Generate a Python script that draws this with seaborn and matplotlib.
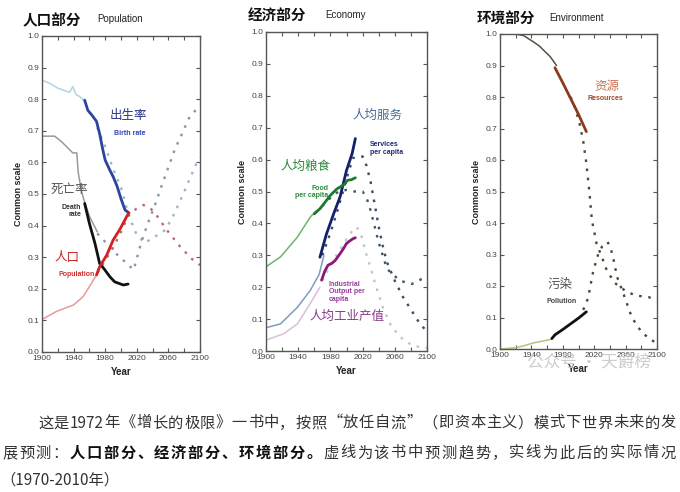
import numpy as np
import pandas as pd
import seaborn as sns
import matplotlib.pyplot as plt

# ---------------- population panel ----------------
birth_model_years = [1900, 1910, 1920, 1930, 1935, 1939, 1943, 1948, 1955]
birth_model = [0.86, 0.85, 0.835, 0.826, 0.822, 0.84, 0.815, 0.808, 0.79]
birth_obs_years = [1954, 1958, 1963, 1969, 1973, 1977, 1980, 1985, 1990, 1995, 2000, 2005, 2010]
birth_obs = [0.797, 0.765, 0.75, 0.73, 0.69, 0.64, 0.607, 0.58, 0.555, 0.525, 0.485, 0.45, 0.44]
birth_proj_years = [1970, 1975, 1980, 1990, 2000, 2010, 2020, 2030, 2043, 2056, 2068, 2081, 2096, 2100]
birth_proj = [0.71, 0.68, 0.65, 0.58, 0.52, 0.43, 0.37, 0.345, 0.365, 0.386, 0.44, 0.513, 0.60, 0.615]

death_model_years = [1900, 1916, 1925, 1935, 1939, 1944, 1946, 1950, 1952, 1960, 1970]
death_model = [0.683, 0.683, 0.665, 0.64, 0.63, 0.63, 0.565, 0.51, 0.49, 0.43, 0.38]
death_obs_years = [1954, 1960, 1967, 1973, 1978, 1986, 1992, 2003, 2009]
death_obs = [0.47, 0.407, 0.344, 0.28, 0.265, 0.238, 0.222, 0.212, 0.215]
death_proj_years = [1970, 1978, 1990, 2003, 2016, 2026, 2034, 2043, 2051, 2068, 2087, 2100]
death_proj = [0.375, 0.354, 0.32, 0.29, 0.26, 0.35, 0.407, 0.465, 0.523, 0.64, 0.745, 0.78]

pop_model_years = [1900, 1918, 1940, 1952, 1960, 1969]
pop_model = [0.103, 0.128, 0.149, 0.175, 0.207, 0.244]
pop_obs_years = [1969, 1973, 1982, 1990, 1999, 2007, 2010]
pop_obs = [0.244, 0.27, 0.307, 0.354, 0.39, 0.428, 0.44]
pop_proj_years = [1970, 1980, 1990, 2000, 2009, 2020, 2028, 2035, 2043, 2058, 2075, 2089, 2100]
pop_proj = [0.25, 0.29, 0.33, 0.38, 0.43, 0.455, 0.465, 0.46, 0.44, 0.386, 0.333, 0.296, 0.275]

# ---------------- economy panel ----------------
serv_model_years = [1900, 1918, 1939, 1955, 1966, 1972]
serv_model = [0.073, 0.085, 0.137, 0.19, 0.24, 0.30]
serv_obs_years = [1967, 1975, 1984, 1992, 2000, 2007, 2011]
serv_obs = [0.294, 0.366, 0.43, 0.483, 0.566, 0.619, 0.666]
serv_proj_years = [1970, 1980, 1990, 2000, 2008, 2020, 2025, 2030, 2035, 2040, 2045, 2050, 2060, 2070, 2080, 2090, 2100]
serv_proj = [0.30, 0.37, 0.45, 0.54, 0.605, 0.61, 0.58, 0.53, 0.46, 0.39, 0.33, 0.28, 0.22, 0.17, 0.13, 0.09, 0.06]

food_model_years = [1900, 1918, 1939, 1955, 1963]
food_model = [0.264, 0.295, 0.357, 0.42, 0.44]
food_obs_years = [1960, 1967, 1972, 1980, 1988, 1992, 1998, 2001, 2006, 2011]
food_obs = [0.43, 0.446, 0.462, 0.488, 0.508, 0.514, 0.524, 0.535, 0.537, 0.543]
food_proj_years = [1970, 1980, 1990, 2000, 2010, 2020, 2025, 2030, 2035, 2040, 2045, 2050, 2055, 2067, 2081, 2093, 2100]
food_proj = [0.455, 0.48, 0.50, 0.505, 0.50, 0.50, 0.48, 0.44, 0.39, 0.34, 0.30, 0.26, 0.245, 0.22, 0.21, 0.225, 0.23]

ind_model_years = [1900, 1922, 1939, 1955, 1967]
ind_model = [0.034, 0.054, 0.085, 0.149, 0.20]
ind_obs_years = [1969, 1973, 1977, 1982, 1986, 1992, 1996, 2000, 2004, 2008, 2011]
ind_obs = [0.222, 0.25, 0.269, 0.275, 0.284, 0.305, 0.32, 0.337, 0.345, 0.352, 0.355]
ind_proj_years = [1970, 1980, 1990, 2000, 2008, 2013, 2019, 2023, 2030, 2037, 2045, 2056, 2071, 2084, 2100]
ind_proj = [0.22, 0.27, 0.31, 0.35, 0.38, 0.388, 0.357, 0.316, 0.26, 0.20, 0.138, 0.075, 0.034, 0.015, 0.01]

# ---------------- environment panel ----------------
res_model_years = [1900, 1920, 1930, 1942, 1950, 1964, 1972]
res_model = [1.0, 1.0, 0.995, 0.976, 0.962, 0.928, 0.90]
res_obs_years = [1970, 1980, 1991, 2000, 2010]
res_obs = [0.893, 0.845, 0.79, 0.745, 0.69]
res_proj_years = [1990, 1995, 2001, 2006, 2010, 2014, 2017, 2023, 2030, 2036, 2046, 2059, 2072, 2089, 2100]
res_proj = [0.80, 0.77, 0.72, 0.66, 0.59, 0.495, 0.41, 0.335, 0.29, 0.25, 0.21, 0.186, 0.17, 0.165, 0.155]

pol_model_years = [1900, 1920, 1930, 1942, 1950, 1964]
pol_model = [0.0, 0.004, 0.01, 0.019, 0.023, 0.03]
pol_obs_years = [1966, 1970, 1980, 1990, 2000, 2010]
pol_obs = [0.033, 0.045, 0.062, 0.08, 0.098, 0.118]
pol_proj_years = [2006, 2012, 2019, 2025, 2030, 2037, 2041, 2045, 2049, 2057, 2068, 2080, 2090, 2100]
pol_proj = [0.124, 0.16, 0.25, 0.30, 0.325, 0.34, 0.32, 0.28, 0.23, 0.177, 0.10, 0.055, 0.033, 0.018]

sns.set_style('ticks')
plt.rcParams['font.family'] = ['Liberation Sans', 'Noto Sans CJK SC', 'DejaVu Sans']
CJK = ['Noto Sans CJK SC', 'DejaVu Sans']

W, H = 680, 492
fig = plt.figure(figsize=(W / 100, H / 100), dpi=100)


def px_axes(l, t, r, b):
    return fig.add_axes([l / W, 1 - b / H, (r - l) / W, (b - t) / H])


def draw(ax, years, vals, color, kind):
    if kind == 'model':
        sns.lineplot(x=years, y=vals, ax=ax, color=color, lw=1.1)
    elif kind == 'obs':
        sns.lineplot(x=years, y=vals, ax=ax, color=color, lw=2.0, zorder=5)
    else:
        sns.lineplot(x=years, y=vals, ax=ax, color=color, lw=1.7, linestyle=(0, (1.1, 2.8)))


ax1 = px_axes(42, 36, 200, 352)
ax2 = px_axes(266, 32, 427, 351)
ax3 = px_axes(500, 34, 657, 349)

# population
draw(ax1, birth_proj_years, birth_proj, '#9fb4cc', 'proj')
draw(ax1, death_proj_years, death_proj, '#8a96a8', 'proj')
draw(ax1, pop_proj_years, pop_proj, '#b86a78', 'proj')
draw(ax1, birth_model_years, birth_model, '#acd6e6', 'model')
draw(ax1, death_model_years, death_model, '#9a9a9a', 'model')
draw(ax1, pop_model_years, pop_model, '#e89a9a', 'model')
draw(ax1, birth_obs_years, birth_obs, '#2c44a0', 'obs')
draw(ax1, death_obs_years, death_obs, '#111111', 'obs')
draw(ax1, pop_obs_years, pop_obs, '#d42020', 'obs')

# economy
draw(ax2, serv_proj_years, serv_proj, '#3a4a6a', 'proj')
draw(ax2, food_proj_years, food_proj, '#3d5a60', 'proj')
draw(ax2, ind_proj_years, ind_proj, '#c4c4cc', 'proj')
draw(ax2, serv_model_years, serv_model, '#7f9cc0', 'model')
draw(ax2, food_model_years, food_model, '#6cb46c', 'model')
draw(ax2, ind_model_years, ind_model, '#dcbce2', 'model')
draw(ax2, serv_obs_years, serv_obs, '#14206a', 'obs')
draw(ax2, food_obs_years, food_obs, '#1a7a30', 'obs')
draw(ax2, ind_obs_years, ind_obs, '#8a1a7a', 'obs')

# environment
draw(ax3, res_proj_years, res_proj, '#4a4a3a', 'proj')
draw(ax3, pol_proj_years, pol_proj, '#4a4a3a', 'proj')
draw(ax3, res_model_years, res_model, '#5a5040', 'model')
draw(ax3, pol_model_years, pol_model, '#c0c07a', 'model')
draw(ax3, res_obs_years, res_obs, '#8b3a1a', 'obs')
draw(ax3, pol_obs_years, pol_obs, '#111111', 'obs')

for ax in (ax1, ax2, ax3):
    ax.set_xlim(1900, 2100)
    ax.set_ylim(0, 1)
    ax.set_xticks(range(1900, 2101, 40))
    ax.set_xticks(range(1900, 2101, 20), minor=True)
    ax.set_yticks(np.round(np.arange(0, 1.01, 0.1), 1))
    ax.set_yticklabels([f'{v:.1f}' for v in np.arange(0, 1.01, 0.1)])
    ax.tick_params(which='both', direction='in', top=True, right=True, length=3,
                   width=0.8, color='#555555', labelsize=6, labelcolor='#444444', pad=2)
    for s in ax.spines.values():
        s.set_color('#555555')
        s.set_linewidth(1.0)
    ax.set_xlabel('Year', fontsize=7, fontweight='bold', labelpad=4, color='#222222')
    ax.set_ylabel('Common scale', fontsize=6.5, fontweight='bold', labelpad=3, color='#222222')

# series labels
small = dict(fontsize=5, fontweight='bold', va='center')
big = dict(fontsize=9, ha='center', va='center', family=CJK)

ax1.text(2009, 0.75, '出生率', color='#2a3585', **big)
ax1.text(2011, 0.693, 'Birth rate', color='#3040c0', ha='center', **small)
ax1.text(1935, 0.513, '死亡率', color='#555555', **big)
ax1.text(1950, 0.446, 'Death\nrate', color='#333333', ha='right', multialignment='right', linespacing=1.1, **small)
ax1.text(1931, 0.30, '人口', color='#c82020', **big)
ax1.text(1944, 0.246, 'Population', color='#d03030', ha='center', **small)

ax2.text(2038, 0.739, '人均服务', color='#4a6a9a', **big)
ax2.text(2029.5, 0.635, 'Services\nper capita', color='#1a2a70', ha='left', linespacing=1.1, **small)
ax2.text(1949, 0.577, '人均粮食', color='#2a8a3a', **big)
ax2.text(1977.4, 0.498, 'Food\nper capita', color='#2a8a3a', ha='right', multialignment='right', linespacing=1.1, **small)
ax2.text(1977.8, 0.185, 'Industrial\nOutput per\ncapita', color='#9a3a9a', ha='left', linespacing=1.1, **small)
ax2.text(2000.7, 0.107, '人均工业产值', color='#8a3a8a', **big)

ax3.text(2036, 0.832, '资源', color='#c87050', **big)
ax3.text(2034, 0.794, 'Resources', color='#9a4a2a', ha='center', **small)
ax3.text(1976, 0.206, '污染', color='#555555', **big)
ax3.text(1979, 0.152, 'Pollution', color='#444444', ha='center', **small)


def ftext(x, y, s, **kw):
    fig.text(x / W, 1 - y / H, s, va='center', **kw)


# panel titles
ftext(23, 20, '人口部分', fontsize=10.5, fontweight='bold', family=CJK, color='#111111')
ftext(97, 19, 'Population', fontsize=7, color='#222222')
ftext(248, 16, '经济部分', fontsize=10.5, fontweight='bold', family=CJK, color='#111111')
ftext(325, 15, 'Economy', fontsize=7, color='#222222')
ftext(477, 19, '环境部分', fontsize=10.5, fontweight='bold', family=CJK, color='#111111')
ftext(549, 18, 'Environment', fontsize=7, color='#222222')

# watermark
ftext(527, 362, '公众号 · 天爵榜', fontsize=12, color='#cccccc', family=CJK, zorder=0)

# caption, justified like the web text
cap_size = 11
em = cap_size * 100 / 72


def tokenize(s):
    toks = []
    for ch in s:
        if ch.isascii() and toks and toks[-1].isascii():
            toks[-1] += ch
        else:
            toks.append(ch)
    return toks


def tok_width(t):
    if t.isascii():
        return 0.56 * len(t) * em
    return em


def justified(segments, x0, x1, y):
    toks = [(t, w) for s, w in segments for t in tokenize(s)]
    widths = [tok_width(t) for t, _ in toks]
    gap = (x1 - x0 - sum(widths)) / (len(toks) - 1)
    x = x0
    for (t, w), wd in zip(toks, widths):
        ftext(x, y, t, fontsize=cap_size, fontweight=w, family=CJK,
              color='#111111' if w == 'bold' else '#333333')
        x += wd + gap


justified([('这是1972年《增长的极限》一书中，按照“放任自流”（即资本主义）模式下世界未来的发', 'normal')], 38, 676, 423)
justified([('展预测：', 'normal'), ('人口部分、经济部分、环境部分。', 'bold'),
           ('虚线为该书中预测趋势，实线为此后的实际情况', 'normal')], 2, 676, 453)
ftext(0, 480, '（1970-2010年）', fontsize=cap_size, family=CJK, color='#333333')

fig.savefig('out.png', dpi=100, facecolor='white')
